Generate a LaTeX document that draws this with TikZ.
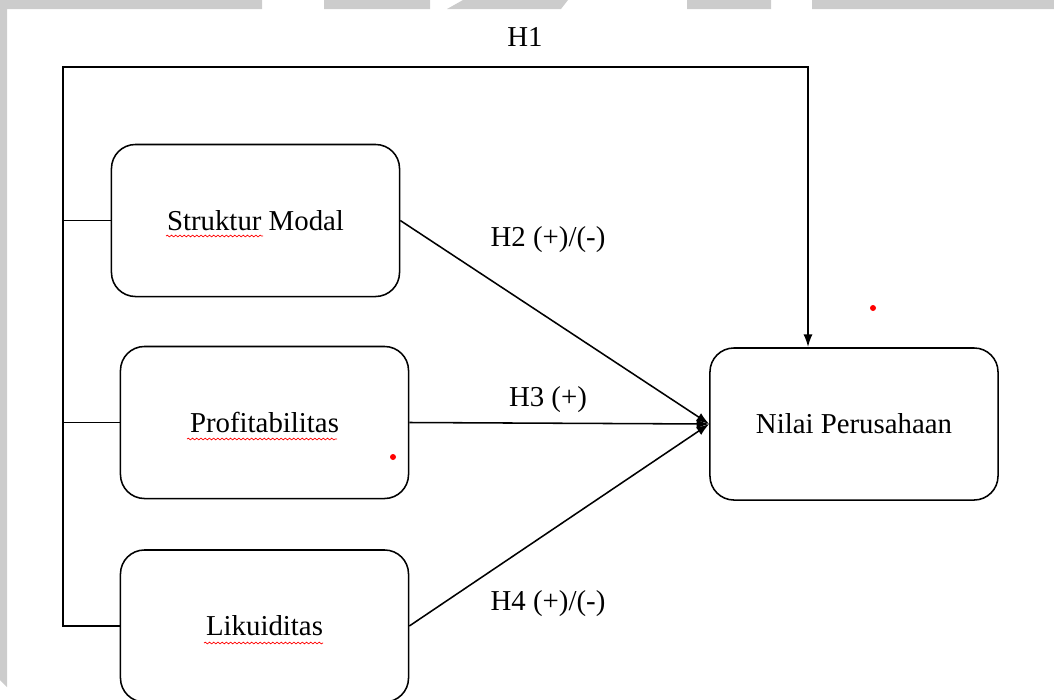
\documentclass[tikz,border=0pt]{standalone}
\usepackage{fontspec}
\setmainfont{Liberation Serif}
\usetikzlibrary{arrows.meta,decorations.pathmorphing}

\begin{document}
\begin{tikzpicture}[x=0.025cm, y=-0.025cm, line width=1.1pt,
    every node/.style={font=\fontsize{20.5}{24}\selectfont},
    varbox/.style={draw, rounded corners=0.6cm, minimum width=7.2cm, minimum height=3.8cm, inner sep=0pt},
    hyp/.style={-{Latex[length=9pt,width=6.5pt]}},
    squiggle/.style={red, line width=0.5pt, decorate, decoration={snake, amplitude=0.6pt, segment length=3pt}}]
    \useasboundingbox (0,0) rectangle (1054,699);
    \clip (0,0) rectangle (1054,699);
    % watermark bits
    \fill[black!20] (0,0) rectangle (262,9) (324,0) rectangle (430,9) (687,0) rectangle (771,9) (812,0) rectangle (1054,9);
    \fill[black!20] (447,9) -- (463,0) -- (568,0) -- (561,9) -- cycle;
    \fill[black!20] (0,0) -- (7,0) -- (7,687) -- (0,680) -- cycle;

    \node[varbox] (sm) at (255.5,220.5) {Struktur Modal};
    \node[varbox] (pr) at (264.5,422.5) {Profitabilitas};
    \node[varbox] (lk) at (264.5,626) {Likuiditas};
    \node[varbox] (np) at (854,424) {Nilai Perusahaan};

    \coordinate (tl) at (63,67);
    \coordinate (h1) at (808,347);

    \draw[hyp] (lk.west) -| (tl) -| (h1);
    \draw (sm.west) -- (sm.west -| tl);
    \draw (pr.west) -- (pr.west -| tl);
    \draw[hyp] (sm.east) -- (np.west);
    \draw[hyp] (pr.east) -- (np.west);
    \draw[hyp] (lk.east) -- (np.west);

    \node (h1lab) at (525,37) {H1};
    \node (h2lab) at (548,240) {H2 (+)/(-)};
    \node (h3lab) at (548,400) {H3 (+)};
    \node (h4lab) at (548,604) {H4 (+)/(-)};

    % spell-check marks
    \draw[squiggle] (166,236) -- (263,236);
    \draw[squiggle] (187,439) -- (337,439);
    \draw[squiggle] (204,643) -- (323,643);
    \fill[red] (873,308) circle (3);
    \fill[red] (393,457) circle (3);
\end{tikzpicture}
\end{document}
